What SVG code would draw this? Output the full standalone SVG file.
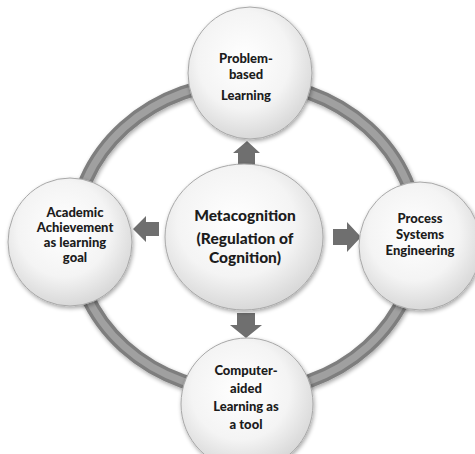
<svg xmlns="http://www.w3.org/2000/svg" width="475" height="454" viewBox="0 0 475 454">
<defs>
<radialGradient id="ball" cx="0.45" cy="0.4" r="0.62">
<stop offset="0" stop-color="#ffffff"/>
<stop offset="0.6" stop-color="#f4f4f4"/>
<stop offset="1" stop-color="#d6d6d6"/>
</radialGradient>
<filter id="sh" x="-20%" y="-20%" width="140%" height="140%">
<feGaussianBlur in="SourceAlpha" stdDeviation="2"/>
<feOffset dx="1" dy="2" result="b"/>
<feComponentTransfer><feFuncA type="linear" slope="0.35"/></feComponentTransfer>
<feMerge><feMergeNode/><feMergeNode in="SourceGraphic"/></feMerge>
</filter>
</defs>
<style>
.node{fill:url(#ball);stroke:#a8a8a8;stroke-width:1;filter:url(#sh)}
.t{font-family:Lato,"Open Sans","Liberation Sans",sans-serif;font-weight:900;font-size:13px;fill:#1c1c1c;text-anchor:middle}
.tc{font-size:15.5px}
.arr{fill:#6f6f6f}
</style>
<rect width="475" height="454" fill="#ffffff"/>
<g id="connectors">
<ellipse cx="246" cy="237" rx="172" ry="155" fill="none" stroke="#7e7e7e" stroke-width="14" filter="url(#sh)"/>
<ellipse cx="246" cy="237" rx="172" ry="155" fill="none" stroke="#a0a0a0" stroke-width="7"/>
<polygon class="arr" points="247,141 260,153 255,153 255,167 238,167 238,153 233,153"/>
<polygon class="arr" points="246,338 262,325 255,325 255,313 237,313 237,325 230,325"/>
<polygon class="arr" points="133,229 146,216 146,222 159,222 159,236 146,236 146,242"/>
<polygon class="arr" points="361,237 347,222 347,229 333,229 333,245 347,245 347,252"/>
</g>
<g id="center">
<ellipse class="node" cx="244" cy="237" rx="79" ry="73"/>
<text class="t tc" x="245" y="221">Metacognition</text>
<text class="t tc" x="245" y="244">(Regulation of</text>
<text class="t tc" x="245" y="263">Cognition)</text>
</g>
<g id="top">
<ellipse class="node" cx="250" cy="73" rx="62" ry="66"/>
<text class="t" x="246" y="63">Problem-</text>
<text class="t" x="246" y="79">based</text>
<text class="t" x="246" y="100">Learning</text>
</g>
<g id="left">
<ellipse class="node" cx="70" cy="242" rx="62" ry="64"/>
<text class="t" x="75" y="217">Academic</text>
<text class="t" x="75" y="232">Achievement</text>
<text class="t" x="75" y="247">as learning</text>
<text class="t" x="75" y="262">goal</text>
</g>
<g id="right">
<ellipse class="node" cx="420" cy="246" rx="61" ry="64"/>
<text class="t" x="420" y="223">Process</text>
<text class="t" x="420" y="239">Systems</text>
<text class="t" x="420" y="255">Engineering</text>
</g>
<g id="bottom">
<ellipse class="node" cx="247" cy="404" rx="66" ry="66"/>
<text class="t" x="246" y="375">Computer-</text>
<text class="t" x="246" y="393">aided</text>
<text class="t" x="246" y="411">Learning as</text>
<text class="t" x="246" y="429">a tool</text>
</g>
</svg>
